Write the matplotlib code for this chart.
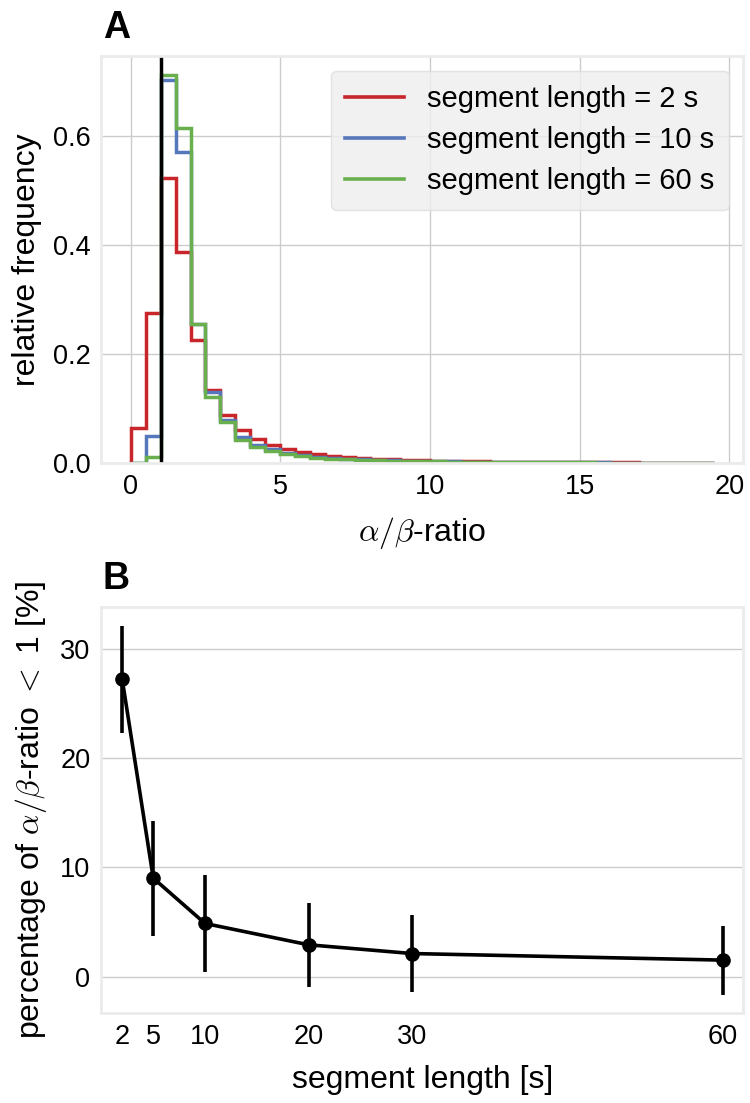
import numpy as np
import matplotlib
matplotlib.use('Agg')
import matplotlib.pyplot as plt
from matplotlib.lines import Line2D

# histogram of alpha/beta ratio, bins of 0.5 from 0 to 19.5
bin_edges = np.arange(0, 19.51, 0.5)

frec_2s = [0.065, 0.275, 0.523, 0.388, 0.226, 0.134, 0.088, 0.060, 0.044, 0.033,
           0.025, 0.020, 0.016, 0.013, 0.011, 0.009, 0.008, 0.007, 0.006, 0.005,
           0.0045, 0.004, 0.0035, 0.003, 0.0027, 0.0024, 0.0021, 0.0019, 0.0017, 0.0015,
           0.0013, 0.0012, 0.0011, 0.001, 0.0009, 0.0008, 0.0008, 0.0007, 0.0006]
frec_10s = [0.0, 0.050, 0.704, 0.572, 0.255, 0.131, 0.079, 0.048, 0.034, 0.025,
            0.019, 0.015, 0.012, 0.010, 0.008, 0.007, 0.006, 0.005, 0.0045, 0.004,
            0.0035, 0.003, 0.0027, 0.0024, 0.0021, 0.0019, 0.0017, 0.0015, 0.0013, 0.0012,
            0.0011, 0.001, 0.0009, 0.0008, 0.0007, 0.0007, 0.0006, 0.0006, 0.0005]
frec_60s = [0.0, 0.012, 0.712, 0.615, 0.255, 0.121, 0.075, 0.043, 0.030, 0.022,
            0.016, 0.013, 0.010, 0.008, 0.007, 0.006, 0.005, 0.0045, 0.004, 0.0035,
            0.003, 0.0027, 0.0024, 0.0021, 0.0019, 0.0017, 0.0015, 0.0013, 0.0012, 0.0011,
            0.001, 0.0009, 0.0008, 0.0007, 0.0007, 0.0006, 0.0006, 0.0005, 0.0005]
etiquetas_hist = ['segment length = 2 s', 'segment length = 10 s', 'segment length = 60 s']
colores_hist = ['#c8262a', '#5577bb', '#6aaf4e']

# percentage of ratio < 1 by segment length
longitudes = [2, 5, 10, 20, 30, 60]
porcentaje = [27.2, 9.0, 4.85, 2.9, 2.1, 1.5]
error = [4.9, 5.25, 4.45, 3.85, 3.5, 3.15]

plt.rcParams['font.family'] = ['Liberation Sans', 'DejaVu Sans']
plt.rcParams['mathtext.fontset'] = 'cm'
plt.rcParams['font.size'] = 19.5
plt.rcParams['axes.edgecolor'] = '#ebebeb'
plt.rcParams['axes.linewidth'] = 2.0
plt.rcParams['grid.color'] = '#cccccc'
plt.rcParams['grid.linewidth'] = 1.0
plt.rcParams['xtick.major.size'] = 0
plt.rcParams['ytick.major.size'] = 0
plt.rcParams['xtick.major.pad'] = 8
plt.rcParams['ytick.major.pad'] = 8

fig = plt.figure(figsize=(7.5, 11.03), dpi=100)
ax1 = fig.add_axes([0.1353, 0.5802, 0.856, 0.369])
ax2 = fig.add_axes([0.1353, 0.0816, 0.856, 0.368])

# Panel A
centros = bin_edges[:-1] + 0.25
for valores, etiqueta, color in zip([frec_2s, frec_10s, frec_60s], etiquetas_hist, colores_hist):
    ax1.hist(centros, bins=bin_edges, weights=valores, histtype='step',
             color=color, linewidth=2.5)
ax1.axvline(1, color='black', linewidth=2.5)
ax1.set_axisbelow(True)
ax1.grid(True)
ax1.set_xticks([0, 5, 10, 15, 20])
ax1.set_yticks([0.0, 0.2, 0.4, 0.6])
ax1.set_xlabel(r'$\alpha/\beta$-ratio', fontsize=23, labelpad=11)
ax1.set_ylabel('relative frequency', fontsize=23, labelpad=8)
manejadores = [Line2D([], [], color=c, linewidth=2.6) for c in colores_hist]
leg = ax1.legend(manejadores, etiquetas_hist, loc='upper right', fontsize=21,
                 frameon=True, fancybox=True, handlelength=2.0, handletextpad=0.8,
                 borderpad=0.5, labelspacing=0.45, borderaxespad=0.5)
leg.get_frame().set_facecolor('#eeeeee')
leg.get_frame().set_edgecolor('#dddddd')
leg.get_frame().set_alpha(0.8)
ax1.annotate('A', xy=(0, 1), xycoords='axes fraction', xytext=(1, 13),
             textcoords='offset points', fontsize=27, fontweight='bold', va='baseline')

# Panel B
ax2.errorbar(longitudes, porcentaje, yerr=error, fmt='o-', color='black',
             markersize=9.5, linewidth=2.6, elinewidth=2.6, capsize=0)
ax2.set_xlim(0, 62)
ax2.set_axisbelow(True)
ax2.grid(True, axis='y')
ax2.set_xticks(longitudes)
ax2.set_yticks([0, 10, 20, 30])
ax2.set_xlabel('segment length [s]', fontsize=23, labelpad=11)
ax2.set_ylabel(r'percentage of $\alpha/\beta$-ratio $<$ 1 [%]', fontsize=23, labelpad=8)
ax2.annotate('B', xy=(0, 1), xycoords='axes fraction', xytext=(1, 13),
             textcoords='offset points', fontsize=27, fontweight='bold', va='baseline')

plt.savefig('out.png', dpi=100)
plt.close()
